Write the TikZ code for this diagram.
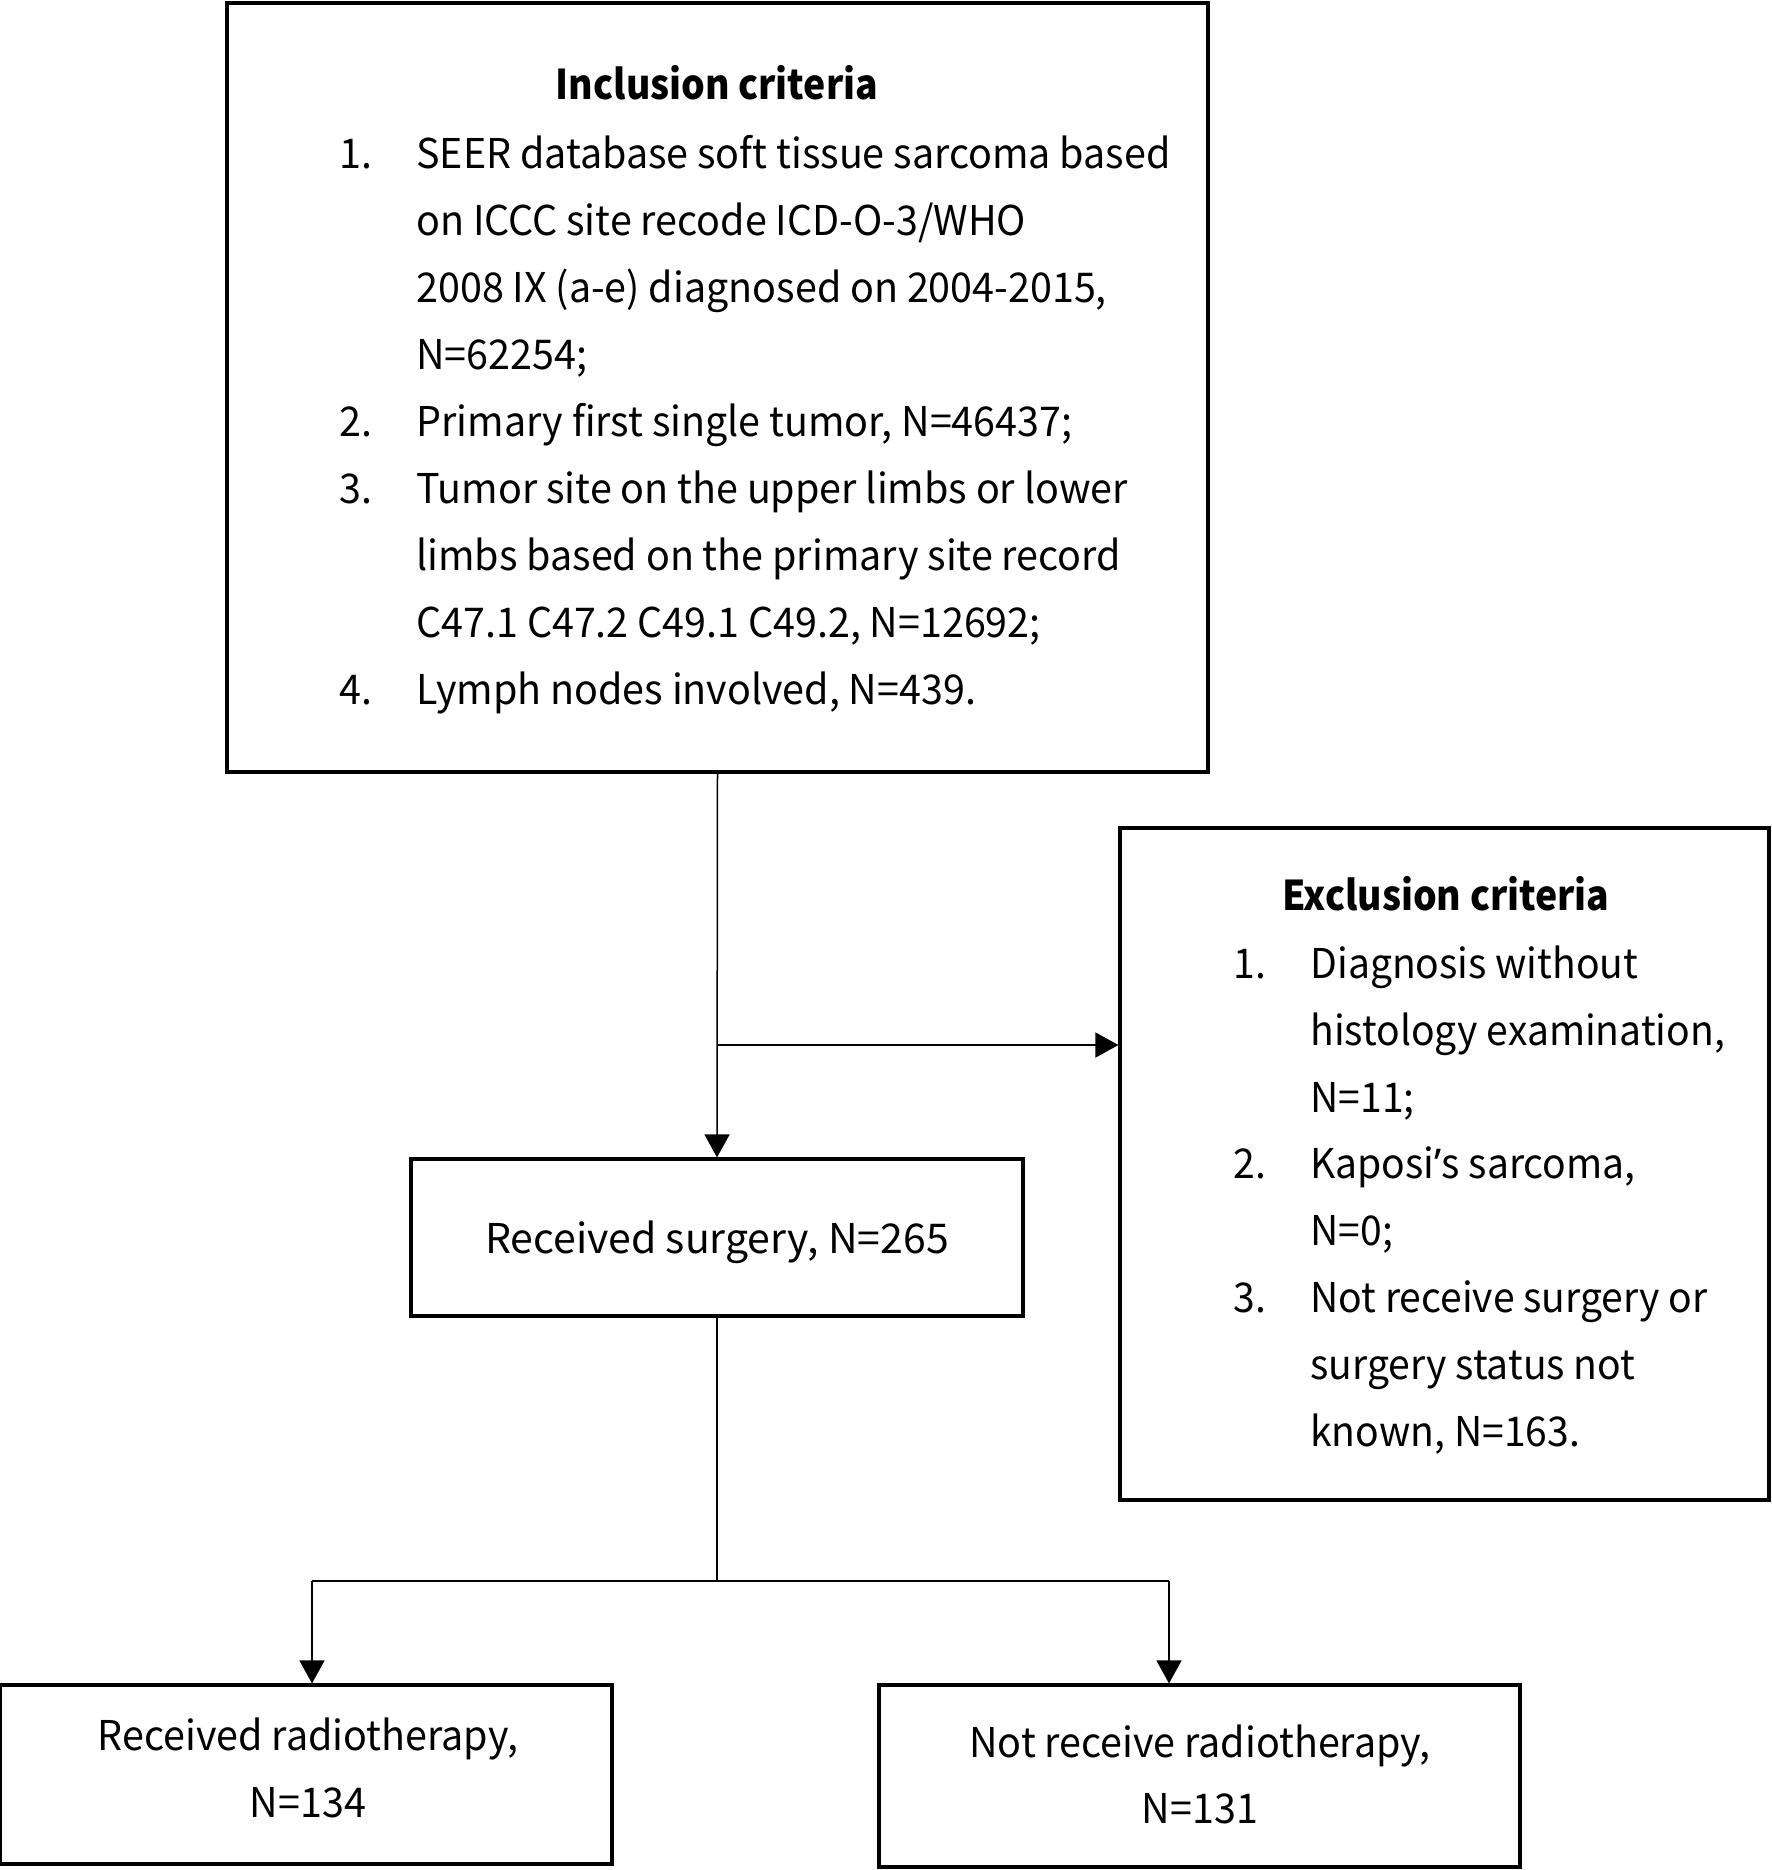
\documentclass[tikz,border=0pt]{standalone}
\usepackage{fontspec}
\setmainfont{Noto Sans CJK SC}
\newfontfamily\bodyf[FakeStretch=0.962]{Noto Sans CJK SC}
\newfontfamily\exclf[FakeStretch=0.953]{Noto Sans CJK SC}
\newfontfamily\ttlf[FakeStretch=0.912]{Noto Sans CJK SC}
\newfontfamily\apf{Noto Sans}
\usetikzlibrary{arrows.meta}
\begin{document}
\begin{tikzpicture}[x=0.5pt,y=-0.5pt,
  box/.style={draw, line width=1.6pt, inner sep=0pt},
  conn/.style={line width=0.75pt},
  arr/.style={conn, -{Triangle[length=11.5pt,width=12.5pt]}},
  txt/.style={anchor=base west, inner sep=0pt, font=\bodyf\fontsize{20.5}{24}\selectfont},
  etxt/.style={anchor=base west, inner sep=0pt, font=\exclf\fontsize{20.5}{24}\selectfont},
  ctxt/.style={anchor=base, inner sep=0pt, font=\bodyf\fontsize{20.5}{24}\selectfont},
  stxt/.style={anchor=base, inner sep=0pt, font=\fontsize{20.5}{24}\selectfont},
  ttl/.style={anchor=base, inner sep=0pt, font=\ttlf\fontsize{20.5}{24}\selectfont\bfseries}]
\useasboundingbox (0,0) rectangle (1772,1870);
% boxes
\node[box, minimum width=490.5pt, minimum height=384.5pt] (inc) at (717.5,387.5) {};
\node[box, minimum width=324.5pt, minimum height=336pt] (exc) at (1444.5,1164) {};
\node[box, minimum width=306pt, minimum height=78.5pt] (surg) at (717,1237.5) {};
\node[box, minimum width=306pt, minimum height=89.5pt] (rad) at (306,1774.5) {};
\node[box, minimum width=320.5pt, minimum height=91pt] (norad) at (1199.5,1776) {};
% inclusion text
\node[ttl] (it) at (717,99) {Inclusion criteria};
\node[txt] (in1) at (339,168) {1.};
\node[txt] (i1a) at (416,168) {SEER database soft tissue sarcoma based};
\node[txt] (i1b) at (416,235) {on ICCC site recode ICD-O-3/WHO};
\node[txt] (i1c) at (416,302) {2008 IX (a-e) diagnosed on 2004-2015,};
\node[txt] (i1d) at (416,369) {N=62254;};
\node[txt] (in2) at (339,436) {2.};
\node[txt] (i2a) at (416,436) {Primary first single tumor, N=46437;};
\node[txt] (in3) at (339,503) {3.};
\node[txt] (i3a) at (416,503) {Tumor site on the upper limbs or lower};
\node[txt] (i3b) at (416,570) {limbs based on the primary site record};
\node[txt] (i3c) at (416,637) {C47.1 C47.2 C49.1 C49.2, N=12692;};
\node[txt] (in4) at (339,704) {4.};
\node[txt] (i4a) at (416,704) {Lymph nodes involved, N=439.};
% exclusion text
\node[ttl] (et) at (1446,910) {Exclusion criteria};
\node[etxt] (en1) at (1233,978) {1.};
\node[etxt] (e1a) at (1310,978) {Diagnosis without};
\node[etxt] (e1b) at (1310,1045) {histology examination,};
\node[etxt] (e1c) at (1310,1112) {N=11;};
\node[etxt] (en2) at (1233,1178) {2.};
\node[etxt] (e2a) at (1310,1178) {Kaposi{\apf ’}s sarcoma,};
\node[etxt] (e2b) at (1310,1245) {N=0;};
\node[etxt] (en3) at (1233,1312) {3.};
\node[etxt] (e3a) at (1310,1312) {Not receive surgery or};
\node[etxt] (e3b) at (1310,1379) {surgery status not};
\node[etxt] (e3c) at (1310,1446) {known, N=163.};
% other texts
\node[stxt] (st) at (717,1253) {Received surgery, N=265};
\node[ctxt] (r1) at (308,1750) {Received radiotherapy,};
\node[ctxt] (r2) at (308,1817) {N=134};
\node[ctxt] (n1) at (1200,1757) {Not receive radiotherapy,};
\node[ctxt] (n2) at (1200,1823) {N=131};
% connectors
\coordinate (b1) at (717,1045);
\coordinate (b2) at (717,1581);
\coordinate (lt) at (312,1581);
\coordinate (rt) at (1169,1581);
\draw[arr] (inc.south) -- (surg.north);
\draw[arr] (b1) -- (exc.west |- b1);
\draw[conn] (surg.south) -- (b2);
\draw[conn] (lt) -- (rt);
\draw[arr] (lt) -- (lt |- rad.north);
\draw[arr] (rt) -- (rt |- norad.north);
\end{tikzpicture}
\end{document}
